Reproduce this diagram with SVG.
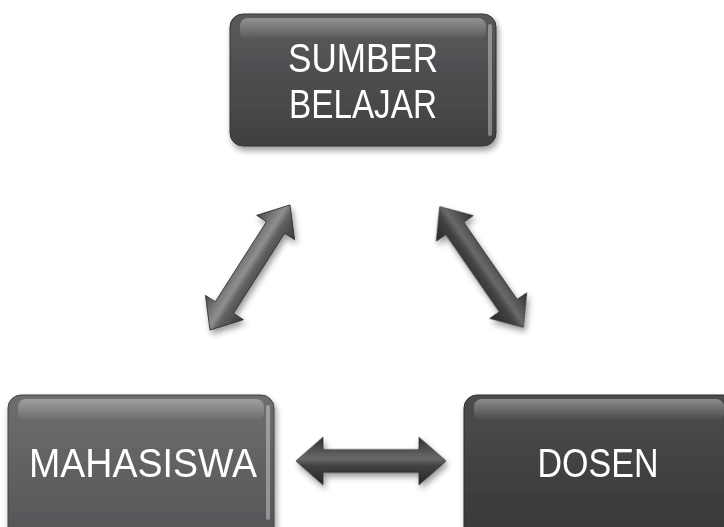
<svg xmlns="http://www.w3.org/2000/svg" width="724" height="527" viewBox="0 0 724 527">
<style>
.lbl{font-family:"Liberation Sans","Open Sans",sans-serif;font-size:40px;fill:#ffffff;text-anchor:middle}
</style>
<defs>
<filter id="sh" x="-10%" y="-10%" width="125%" height="130%">
<feGaussianBlur in="SourceAlpha" stdDeviation="3"/>
<feOffset dx="2" dy="4" result="b"/>
<feComponentTransfer><feFuncA type="linear" slope="0.4"/></feComponentTransfer>
<feMerge><feMergeNode/><feMergeNode in="SourceGraphic"/></feMerge>
</filter>
<linearGradient id="gTop" x1="0" y1="0" x2="0" y2="1">
<stop offset="0" stop-color="#5a5a5c"/><stop offset="1" stop-color="#404042"/>
</linearGradient>
<linearGradient id="gLeft" x1="0" y1="0" x2="0" y2="1">
<stop offset="0" stop-color="#6e6e70"/><stop offset="1" stop-color="#555557"/>
</linearGradient>
<linearGradient id="gRight" x1="0" y1="0" x2="0" y2="1">
<stop offset="0" stop-color="#4c4c4e"/><stop offset="1" stop-color="#38383a"/>
</linearGradient>
<linearGradient id="gloss" x1="0" y1="0" x2="0" y2="1">
<stop offset="0" stop-color="#ffffff" stop-opacity="0.35"/><stop offset="1" stop-color="#ffffff" stop-opacity="0"/>
</linearGradient>
<linearGradient id="gArrowL" x1="0" y1="0" x2="0" y2="1">
<stop offset="0" stop-color="#4a4a4c"/><stop offset="0.45" stop-color="#909092"/><stop offset="0.6" stop-color="#606062"/><stop offset="1" stop-color="#3a3a3c"/>
</linearGradient>
<linearGradient id="gArrowD" x1="0" y1="0" x2="0" y2="1">
<stop offset="0" stop-color="#303032"/><stop offset="0.45" stop-color="#6a6a6c"/><stop offset="0.6" stop-color="#434345"/><stop offset="1" stop-color="#262628"/>
</linearGradient>
<path id="arr" d="M -75 0 L -48 -25 L -48 -12 L 48 -12 L 48 -25 L 75 0 L 48 25 L 48 12 L -48 12 L -48 25 Z"/>
</defs>

<g id="connectors" stroke="#2a2a2c" stroke-width="0.8" filter="url(#sh)">
<use href="#arr" fill="url(#gArrowL)" transform="translate(250,267.5) rotate(-57.4) scale(0.99,0.9)"/>
<use href="#arr" fill="url(#gArrowD)" transform="translate(481.5,267) rotate(55.3) scale(0.98,0.9)"/>
<use href="#arr" fill="url(#gArrowD)" transform="translate(371,461) scale(1,0.95)"/>
</g>

<g id="sumber-belajar" filter="url(#sh)">
<rect x="230" y="14" width="266" height="132" rx="13" fill="url(#gTop)" stroke="#333335" stroke-width="1"/>
<rect x="240" y="18" width="246" height="22" rx="8" fill="url(#gloss)"/>
<rect x="488" y="24" width="4" height="112" rx="2" fill="#ffffff" opacity="0.35"/>
<text class="lbl" x="363" y="72" textLength="150" lengthAdjust="spacingAndGlyphs">SUMBER</text>
<text class="lbl" x="363" y="118" textLength="148" lengthAdjust="spacingAndGlyphs">BELAJAR</text>
</g>

<g id="mahasiswa" filter="url(#sh)">
<rect x="8" y="395" width="266" height="145" rx="13" fill="url(#gLeft)" stroke="#444446" stroke-width="1"/>
<rect x="18" y="399" width="246" height="22" rx="8" fill="url(#gloss)"/>
<rect x="266" y="405" width="4" height="115" rx="2" fill="#ffffff" opacity="0.35"/>
<text class="lbl" x="143" y="477" textLength="228" lengthAdjust="spacingAndGlyphs">MAHASISWA</text>
</g>

<g id="dosen" filter="url(#sh)">
<rect x="464" y="395" width="272" height="145" rx="13" fill="url(#gRight)" stroke="#2e2e30" stroke-width="1"/>
<rect x="474" y="399" width="250" height="22" rx="8" fill="url(#gloss)"/>
<text class="lbl" x="598" y="477" textLength="121" lengthAdjust="spacingAndGlyphs">DOSEN</text>
</g>
</svg>
